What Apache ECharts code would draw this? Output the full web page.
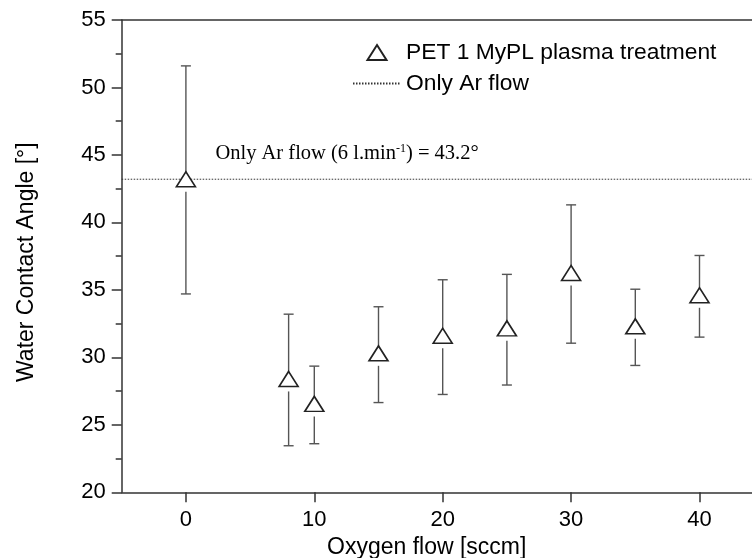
<!DOCTYPE html>
<html>
<head>
<meta charset="utf-8">
<script src="https://cdn.jsdelivr.net/npm/echarts@6/dist/echarts.min.js"></script>
<style>
  html, body { margin: 0; padding: 0; background: #fff; }
  #chart { width: 752px; height: 558px; }
</style>
</head>
<body>
<div id="chart"></div>
<script>
// ---- data ----
const oxygenFlow = [0, 8, 10, 15, 20, 25, 30, 35, 40];
const contactAngle = [43.2, 28.4, 26.55, 30.3, 31.6, 32.15, 36.25, 32.3, 34.6];
const errLow  = [34.7, 23.45, 23.6, 26.65, 27.25, 27.95, 31.05, 29.4, 31.5];
const errHigh = [51.6, 33.2, 29.35, 33.75, 35.75, 36.15, 41.3, 35.05, 37.55];
const arOnlyAngle = 43.2;
const xTickValues = [0, 10, 20, 30, 40];
const xRange = [-5, 45];
const yRange = [20, 55];
const annotationAnchor = [2.3, 45.1];
const seriesName = 'PET 1 MyPL plasma treatment';
const refName = 'Only Ar flow';

const chart = echarts.init(document.getElementById('chart'), null, { renderer: 'canvas' });
const AX = '#333';
const sans = '"Liberation Sans", Arial, sans-serif';

const scatterData = oxygenFlow.map((x, i) => [x, contactAngle[i]]);
const errData = oxygenFlow.map((x, i) => [x, errLow[i], errHigh[i], contactAngle[i]]);

// legend icon: a 19x15 triangle centred in the 48x15 icon box
const legendTriangle = 'path://M0,0 M48,15 M24,0 L33.5,15 L14.5,15 Z';

const option = {
  backgroundColor: '#fff',
  animation: false,
  grid: { left: 121.7, top: 20, width: 642, height: 472.3, outerBoundsMode: 'none', containLabel: false },
  legend: {
    orient: 'vertical',
    left: 347, top: 36,
    itemWidth: 48, itemHeight: 15, itemGap: 8,
    textStyle: { fontFamily: sans, fontSize: 22.8, color: '#000', lineHeight: 21 },
    data: [
      { name: seriesName, icon: legendTriangle },
      { name: refName, itemStyle: { opacity: 0 } }
    ]
  },
  xAxis: [{
    type: 'value', min: xRange[0], max: xRange[1],
    name: 'Oxygen flow [sccm]', nameLocation: 'middle', nameGap: 44,
    nameTextStyle: { fontFamily: sans, fontSize: 23, color: '#000', padding: [0, 32, 0, 0] },
    axisLine: { show: true, onZero: false, lineStyle: { color: AX, width: 1.5 } },
    axisTick: { show: true, inside: false, length: 10, customValues: xTickValues, lineStyle: { color: AX, width: 1.5 } },
    axisLabel: { customValues: xTickValues, fontFamily: sans, fontSize: 22, color: '#000', margin: 17 },
    splitLine: { show: false }
  }, {
    type: 'value', position: 'top', min: xRange[0], max: xRange[1],
    axisLine: { show: true, onZero: false, lineStyle: { color: AX, width: 1.5 } },
    axisTick: { show: false }, axisLabel: { show: false }, splitLine: { show: false }
  }],
  yAxis: {
    type: 'value', min: yRange[0], max: yRange[1], interval: 5,
    name: 'Water Contact Angle [°]', nameLocation: 'middle', nameGap: 84,
    nameTextStyle: { fontFamily: sans, fontSize: 23, color: '#000', padding: [0, 12, 0, 0] },
    axisLine: { show: true, onZero: false, lineStyle: { color: AX, width: 1.5 } },
    axisTick: { show: true, inside: false, length: 10, lineStyle: { color: AX, width: 1.5 } },
    minorTick: { show: true, splitNumber: 2, length: 6, lineStyle: { color: AX, width: 1.5 } },
    axisLabel: { fontFamily: sans, fontSize: 22, color: '#000', margin: 16 },
    splitLine: { show: false }
  },
  series: [
    {
      name: refName, type: 'line',
      data: [[xRange[0], arOnlyAngle], [xRange[1], arOnlyAngle]],
      symbol: 'none', showSymbol: false, silent: true, z: 1,
      itemStyle: { color: '#333' },
      lineStyle: { color: '#333', width: 1, type: [1.5, 1.5] }
    },
    {
      name: 'err', type: 'custom', z: 2, silent: true,
      data: errData,
      encode: { x: 0, y: [1, 2] },
      renderItem: function (params, api) {
        const x = api.value(0);
        const lo = api.coord([x, api.value(1)]);
        const hi = api.coord([x, api.value(2)]);
        const c = api.coord([x, api.value(3)]);
        const cap = 5;
        const st = { stroke: '#555', lineWidth: 1.4 };
        return {
          type: 'group',
          children: [
            { type: 'line', shape: { x1: hi[0], y1: hi[1], x2: c[0], y2: c[1] - 7 }, style: st },
            { type: 'line', shape: { x1: lo[0], y1: lo[1], x2: c[0], y2: c[1] + 12.5 }, style: st },
            { type: 'line', shape: { x1: hi[0] - cap, y1: hi[1], x2: hi[0] + cap, y2: hi[1] }, style: st },
            { type: 'line', shape: { x1: lo[0] - cap, y1: lo[1], x2: lo[0] + cap, y2: lo[1] }, style: st }
          ]
        };
      }
    },
    {
      name: seriesName, type: 'scatter', z: 3,
      data: scatterData,
      symbol: 'triangle', symbolSize: [19, 15],
      itemStyle: { color: '#fff', borderColor: '#222', borderWidth: 1.6, opacity: 1 }
    }
  ]
};
chart.setOption(option);

const p = chart.convertToPixel({ gridIndex: 0 }, annotationAnchor);
chart.setOption({
  graphic: [{
    type: 'text', x: p[0], y: p[1],
    style: {
      text: '{a|Only Ar flow (6 l.min}{s|-1}{a|) = ' + arOnlyAngle.toFixed(1) + '°}',
      verticalAlign: 'middle', align: 'left',
      rich: {
        a: { fontFamily: '"Liberation Serif", "Times New Roman", serif', fontSize: 20.5, color: '#111', lineHeight: 22, verticalAlign: 'bottom' },
        s: { fontFamily: '"Liberation Serif", "Times New Roman", serif', fontSize: 12, color: '#111', lineHeight: 22, verticalAlign: 'top' }
      }
    }
  }]
});
</script>
</body>
</html>
